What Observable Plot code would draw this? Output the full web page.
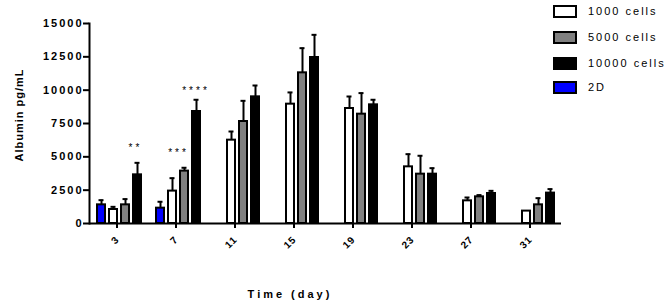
<!DOCTYPE html>
<html>
<head>
<meta charset="utf-8">
<script src="https://cdn.jsdelivr.net/npm/d3@7"></script>
<script src="https://cdn.jsdelivr.net/npm/@observablehq/plot@0.6"></script>
<style>
  html, body { margin: 0; padding: 0; background: #fff; }
  #wrap { position: relative; width: 669px; height: 301px; font-family: "Liberation Sans", Arial, sans-serif; }
  #wrap svg text { fill: #000; }
  .legend { position: absolute; left: 553px; top: 0; font-size: 11px; letter-spacing: 2px; color: #000; }
  .legend .row { position: absolute; left: 0; height: 14px; white-space: nowrap; }
  .legend .sw { position: absolute; left: 0; top: 1px; width: 20px; height: 9px; border: 2px solid #000; }
  .legend .lb { position: absolute; left: 35px; top: 0; line-height: 14px; }
</style>
</head>
<body>
<div id="wrap"></div>
<script>
// ---- data ----
const days = [3, 7, 11, 15, 19, 23, 27, 31];
const seriesOrder = ["2D", "1000 cells", "5000 cells", "10000 cells"];
const seriesColors = ["#0000ff", "#ffffff", "#808080", "#000000"];
const legendOrder = ["1000 cells", "5000 cells", "10000 cells", "2D"];

const mean2D    = [1400, 1150, null, null, null, null, null, null];
const sd2D      = [350, 480, null, null, null, null, null, null];
const mean1000  = [1050, 2430, 6250, 8950, 8625, 4250, 1700, 930];
const sd1000    = [200, 970, 650, 880, 900, 950, 250, null];
const mean5000  = [1400, 3930, 7650, 11300, 8200, 3700, 2000, 1400];
const sd5000    = [430, 250, 1550, 1850, 1580, 1380, 130, 500];
const mean10000 = [3650, 8400, 9500, 12450, 8900, 3700, 2250, 2280];
const sd10000   = [900, 880, 850, 1700, 380, 450, 200, 300];

const yTicks = [0, 2500, 5000, 7500, 10000, 12500, 15000];

// significance annotations
const starDays   = [3, 7, 7];
const starSeries = ["10000 cells", "5000 cells", "10000 cells"];
const starLabels = ["**", "***", "****"];
const starY      = [5710, 5290, 9990];

const yTitle = "Albumin pg/mL";
const xTitle = "Time (day)";

// ---- build table ----
const means = {"2D": mean2D, "1000 cells": mean1000, "5000 cells": mean5000, "10000 cells": mean10000};
const sds   = {"2D": sd2D, "1000 cells": sd1000, "5000 cells": sd5000, "10000 cells": sd10000};
const rows = [];
for (const s of seriesOrder) {
  days.forEach((d, i) => {
    if (means[s][i] != null) rows.push({day: d, series: s, value: means[s][i], err: sds[s][i]});
  });
}
const errRows = rows.filter(r => r.err != null);
const stars = starLabels.map((l, i) => ({day: starDays[i], series: starSeries[i], label: l, y: starY[i]}));

const chart = Plot.plot({
  width: 669,
  height: 301,
  marginLeft: 87,
  marginRight: 106,
  marginTop: 23,
  marginBottom: 78,
  style: {fontFamily: "'Liberation Sans', Arial, sans-serif", background: "#fff", color: "#000", overflow: "visible"},
  fx: {domain: days, padding: 0},
  x: {domain: seriesOrder, paddingInner: 0.2, paddingOuter: 0.45, axis: null},
  y: {domain: [0, 15000]},
  color: {domain: seriesOrder, range: seriesColors},
  marks: [
    Plot.barY(rows, {fx: "day", x: "series", y: "value", fill: "series", stroke: "#000", strokeWidth: 2, insetLeft: 1, insetRight: 1}),
    Plot.ruleX(errRows, {fx: "day", x: "series", y1: "value", y2: d => d.value + d.err, stroke: "#000", strokeWidth: 2}),
    Plot.tickY(errRows, {fx: "day", x: "series", y: d => d.value + d.err, stroke: "#000", strokeWidth: 2, insetLeft: 2.5, insetRight: 2.5}),
    Plot.text(stars.filter(s => s.label === "**"), {fx: "day", x: "series", y: "y", text: "label", fontSize: 10, dx: -3.5}),
    Plot.text(stars.filter(s => s.label === "***"), {fx: "day", x: "series", y: "y", text: "label", fontSize: 10, dx: -7.5}),
    Plot.text(stars.filter(s => s.label === "****"), {fx: "day", x: "series", y: "y", text: "label", fontSize: 10, dx: -2}),
    Plot.ruleY([0], {stroke: "#000", strokeWidth: 2}),
    Plot.frame({anchor: "left", facet: "super", stroke: "#000", strokeWidth: 2}),
    Plot.axisY({ticks: yTicks, tickFormat: d => String(d), tickSize: 6, tickPadding: 2, strokeWidth: 2, fontSize: 11, fontWeight: "bold", label: null}),
    Plot.axisFx({anchor: "bottom", tickSize: 5, tickPadding: 10, strokeWidth: 2, tickRotate: -45, fontSize: 10, fontWeight: "bold", label: null, dx: -2}),
    Plot.text([yTitle], {frameAnchor: "left", rotate: -90, dx: -70, dy: -8, textAnchor: "middle", lineAnchor: "middle", fontSize: 11, fontWeight: "bold", facet: "super"}),
    Plot.text([xTitle], {frameAnchor: "bottom", dx: -37, dy: 74, textAnchor: "middle", lineAnchor: "bottom", fontSize: 11, fontWeight: "bold", facet: "super"})
  ]
});

const wrap = document.getElementById("wrap");
wrap.appendChild(chart);

// letter spacing via textLength (works in SVG everywhere)
function spaceText(el, spacing) {
  const n = el.textContent.length;
  if (n < 2) return;
  const w = el.getComputedTextLength();
  el.setAttribute("textLength", w + spacing * (n - 1));
  el.setAttribute("lengthAdjust", "spacing");
}
const yTickStr = new Set(yTicks.map(String));
const dayStr = new Set(days.map(String));
chart.querySelectorAll("text").forEach(el => {
  const t = el.textContent;
  if (t === yTitle) spaceText(el, 1);
  else if (t === xTitle) spaceText(el, 3);
  else if (/^\*+$/.test(t)) spaceText(el, 3);
  else if (yTickStr.has(t) && !dayStr.has(t)) spaceText(el, 2);
  else if (dayStr.has(t)) spaceText(el, 1);
});

// legend
const legend = document.createElement("div");
legend.className = "legend";
const legendTops = [4, 30, 56, 80];
legendOrder.forEach((s, i) => {
  const row = document.createElement("div");
  row.className = "row";
  row.style.top = legendTops[i] + "px";
  const sw = document.createElement("span");
  sw.className = "sw";
  sw.style.background = seriesColors[seriesOrder.indexOf(s)];
  const lb = document.createElement("span");
  lb.className = "lb";
  lb.textContent = s;
  row.appendChild(sw);
  row.appendChild(lb);
  legend.appendChild(row);
});
wrap.appendChild(legend);
</script>
</body>
</html>
